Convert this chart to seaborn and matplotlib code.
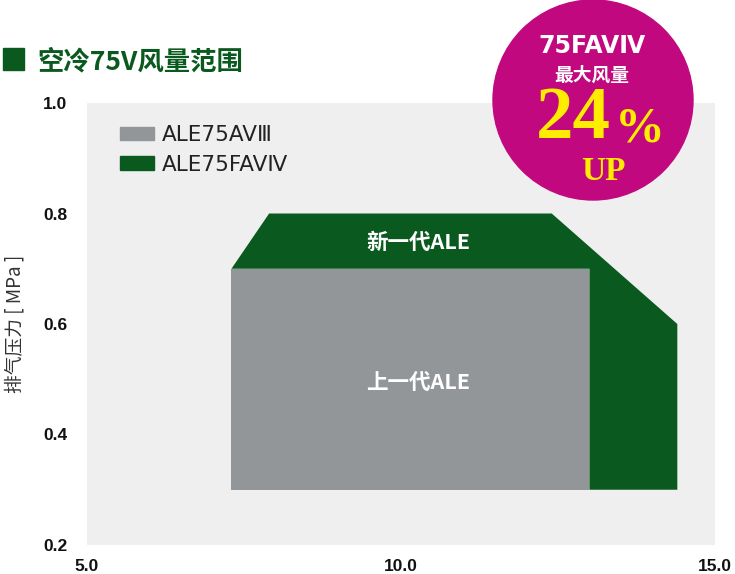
import matplotlib
matplotlib.use("Agg")
import matplotlib.pyplot as plt
from matplotlib.patches import Patch, Ellipse, Rectangle
import seaborn as sns

# --- data ---
old_x = [7.3, 13.0, 13.0, 7.3]
old_y = [0.3, 0.3, 0.7, 0.7]
new_x = [7.3, 7.9, 12.4, 14.4, 14.4, 13.0, 13.0, 7.3]
new_y = [0.7, 0.8, 0.8, 0.6, 0.3, 0.3, 0.7, 0.7]
x_ticks = [5.0, 10.0, 15.0]
y_ticks = [0.2, 0.4, 0.6, 0.8, 1.0]
series_names = ["ALE75AVⅢ", "ALE75FAVⅣ"]
area_labels = ["上一代ALE", "新一代ALE"]

GREEN = "#0a5a20"
GRAY = "#939699"
MAGENTA = "#c1087f"
YELLOW = "#ffec00"

sns.set_theme(style="white", rc={"axes.facecolor": "#efefef"})
plt.rcParams["font.family"] = ["Noto Sans CJK SC", "DejaVu Sans"]
latin = ["DejaVu Sans", "Noto Sans CJK SC"]

fig = plt.figure(figsize=(7.35, 5.74), dpi=100)
ax = fig.add_axes([87 / 735, 29 / 574, 628 / 735, 442 / 574])

# polygons of the two operating ranges
ax.fill(new_x, new_y, color=GREEN, lw=0)
ax.fill(old_x, old_y, color=GRAY, lw=0)

ax.text(10.27, 0.747, area_labels[1], color="white", fontsize=15.5,
        fontweight="bold", ha="center", va="center")
ax.text(10.27, 0.495, area_labels[0], color="white", fontsize=15.5,
        fontweight="bold", ha="center", va="center")

ax.set_xlim(5, 15)
ax.set_ylim(0.2, 1.0)
ax.set_xticks(x_ticks)
ax.set_xticklabels([f"{v:.1f}" for v in x_ticks])
ax.set_yticks(y_ticks)
ax.set_yticklabels([f"{v:.1f}" for v in y_ticks])
tick_font = ["Liberation Sans Narrow", "Liberation Sans", "DejaVu Sans"]
for lab in ax.get_xticklabels() + ax.get_yticklabels():
    lab.set_family(tick_font)
    lab.set_fontweight("bold")
    lab.set_fontsize(12.5)
    lab.set_color("#111111")
ax.tick_params(axis="x", length=0, pad=10)
ax.tick_params(axis="y", length=0, pad=14)
sns.despine(ax=ax, left=True, bottom=True)

ax.set_ylabel("排气压力 [ MPa ]", fontsize=13.5, color="#333333")
ax.yaxis.set_label_coords(-0.098, 0.5)

handles = [Patch(color=GRAY), Patch(color=GREEN)]
leg = ax.legend(handles, series_names, loc="upper left", bbox_to_anchor=(0.052, 0.95),
                frameon=False, fontsize=15.5, handlelength=1.6, handleheight=0.6,
                handletextpad=0.36, labelspacing=0.45, borderpad=0, borderaxespad=0,
                labelcolor="#222222")
for t in leg.get_texts():
    t.set_family(latin)

# title with square marker
fig.patches.append(Rectangle((3 / 735, 1 - 70 / 574), 21 / 735, 22 / 574,
                             transform=fig.transFigure, color=GREEN))
fig.text(37 / 735, 1 - 62 / 574, "空冷75V风量范围", color=GREEN, fontsize=19,
         fontweight="bold", va="center", ha="left")

# badge
fig.patches.append(Ellipse((593 / 735, 1 - 100 / 574), 200 / 735, 200 / 574,
                           transform=fig.transFigure, color=MAGENTA, zorder=5))
fig.text(592 / 735, 1 - 46 / 574, "75FAVⅣ", color="white", fontsize=17,
         fontweight="bold", family=latin, ha="center", va="center", zorder=6)
fig.text(592 / 735, 1 - 75 / 574, "最大风量", color="white", fontsize=13.5,
         fontweight="bold", ha="center", va="center", zorder=6)
fig.text(573 / 735, 1 - 120 / 574, "24", color=YELLOW, fontsize=54,
         fontweight="bold", family="Liberation Serif", ha="center", va="center", zorder=6)
fig.text(640 / 735, 1 - 130 / 574, "%", color=YELLOW, fontsize=36,
         fontweight="bold", family="Liberation Serif", ha="center", va="center", zorder=6)
fig.text(603 / 735, 1 - 171 / 574, "UP", color=YELLOW, fontsize=24,
         fontweight="bold", family="Liberation Serif", ha="center", va="center", zorder=6)

fig.savefig("out.png", dpi=100)
